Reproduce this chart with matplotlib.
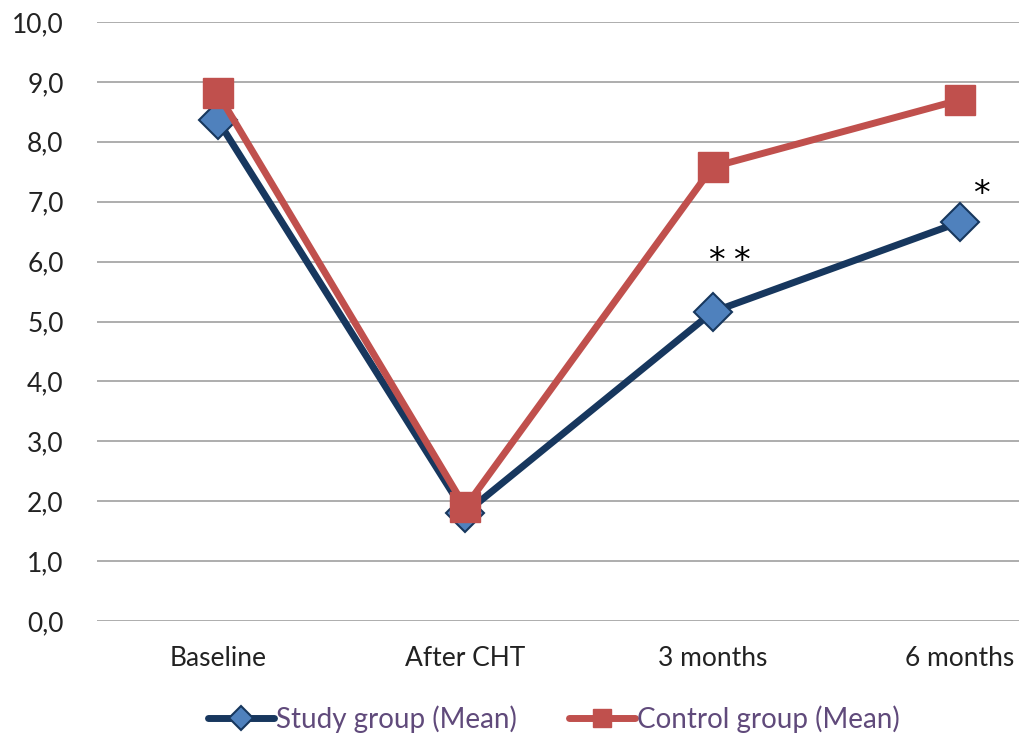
import matplotlib.pyplot as plt

# data
categories = ["Baseline", "After CHT", "3 months", "6 months"]
study_mean = [8.36, 1.80, 5.16, 6.66]
control_mean = [8.81, 1.90, 7.58, 8.70]
y_ticks = [0, 1, 2, 3, 4, 5, 6, 7, 8, 9, 10]

plt.rcParams['font.family'] = ['Lato', 'DejaVu Sans']

fig = plt.figure(figsize=(10.19, 7.33), dpi=100)
W, H = 1019, 733
ax = fig.add_axes([97 / W, 1 - 621 / H, (1019 - 97) / W, (621 - 22) / H])

x = list(range(len(categories)))
ax.plot(x, study_mean, color="#17375E", lw=5, marker="D", ms=19,
        mfc="#4F81BD", mec="#17375E", mew=1.5, label="Study group (Mean)",
        solid_capstyle="round", zorder=3)
ax.plot(x, control_mean, color="#C0504D", lw=5, marker="s", ms=21,
        mfc="#C0504D", mec="#C0504D", label="Control group (Mean)",
        solid_capstyle="round", zorder=4)

# significance marks
for xs, ys in [(2.016, 6.0), (2.117, 6.0), (3.085, 7.12)]:
    ax.text(xs, ys, "*", ha="center", va="center", fontsize=24, color="black",
            family="DejaVu Sans")

ax.set_xlim(-0.488, 3.238)
ax.set_ylim(0, 10)
ax.set_yticks(y_ticks)
ax.set_yticklabels([f"{v:.1f}".replace(".", ",") for v in y_ticks])
ax.set_xticks(x)
ax.set_xticklabels(categories)
ax.tick_params(length=0, labelsize=19, colors="#222222")
ax.tick_params(axis="x", pad=18)
ax.tick_params(axis="y", pad=24)
ax.grid(axis="y", color="#A0A0A0", lw=1.2)
ax.set_axisbelow(True)
for s in ax.spines.values():
    s.set_visible(False)

leg = fig.legend(loc="center", bbox_to_anchor=(554 / W, 1 - 719 / H), ncol=2,
                 frameon=False, fontsize=20, handlelength=2.35, handletextpad=0.08,
                 columnspacing=1.9, markerscale=0.62)
for t in leg.get_texts():
    t.set_color("#604A7B")

fig.savefig("out.png", dpi=100)
